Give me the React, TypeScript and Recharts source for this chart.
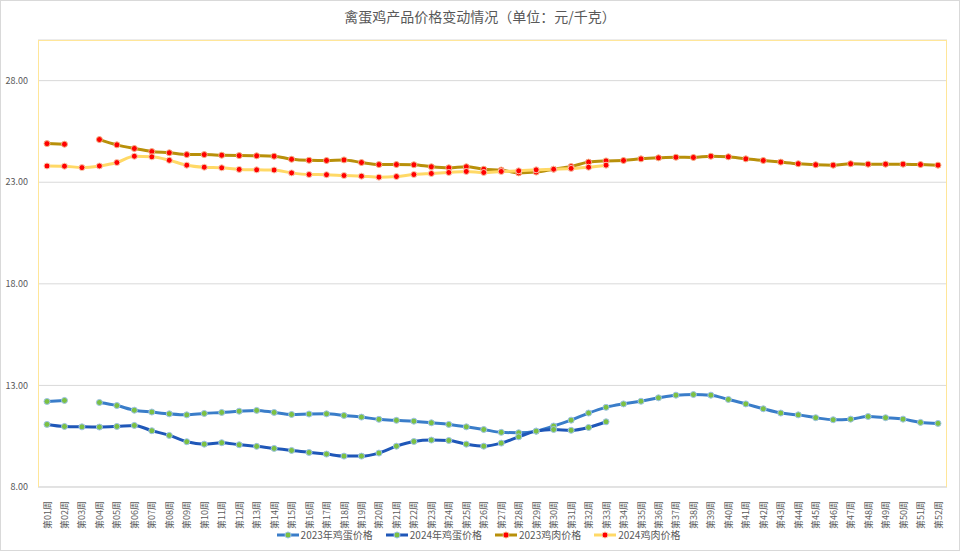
import React from "react";
import { LineChart, Line, XAxis, YAxis, CartesianGrid, Legend } from "recharts";

const weeks = [
  "第01周", "第02周", "第03周", "第04周", "第05周", "第06周", "第07周", "第08周", "第09周", "第10周",
  "第11周", "第12周", "第13周", "第14周", "第15周", "第16周", "第17周", "第18周", "第19周", "第20周",
  "第21周", "第22周", "第23周", "第24周", "第25周", "第26周", "第27周", "第28周", "第29周", "第30周",
  "第31周", "第32周", "第33周", "第34周", "第35周", "第36周", "第37周", "第38周", "第39周", "第40周",
  "第41周", "第42周", "第43周", "第44周", "第45周", "第46周", "第47周", "第48周", "第49周", "第50周",
  "第51周", "第52周",
];

const egg2023 = [
  12.21, 12.26, null, 12.16, 12.01, 11.78, 11.69, 11.6, 11.55, 11.62,
  11.67, 11.73, 11.77, 11.67, 11.57, 11.59, 11.6, 11.52, 11.44, 11.33,
  11.28, 11.24, 11.16, 11.08, 10.96, 10.83, 10.69, 10.67, 10.75, 11.0,
  11.29, 11.64, 11.92, 12.09, 12.22, 12.39, 12.52, 12.55, 12.52, 12.31,
  12.09, 11.85, 11.64, 11.55, 11.41, 11.31, 11.34, 11.47, 11.41, 11.34,
  11.18, 11.13,
];

const egg2024 = [
  11.08, 10.98, 10.96, 10.95, 10.98, 11.03, 10.77, 10.54, 10.23, 10.11,
  10.18, 10.08, 10.0, 9.9, 9.8, 9.7, 9.62, 9.52, 9.52, 9.67,
  10.01, 10.24, 10.31, 10.29, 10.11, 10.01, 10.16, 10.47, 10.75, 10.83,
  10.79, 10.93, 11.21,
];

const meat2023 = [
  24.9, 24.87, null, 25.1, 24.84, 24.66, 24.51, 24.45, 24.36, 24.36,
  24.33, 24.31, 24.3, 24.28, 24.13, 24.08, 24.07, 24.1, 23.97, 23.87,
  23.87, 23.86, 23.76, 23.71, 23.76, 23.64, 23.6, 23.46, 23.5, 23.64,
  23.77, 23.99, 24.05, 24.07, 24.15, 24.2, 24.23, 24.22, 24.28, 24.25,
  24.15, 24.07, 23.99, 23.91, 23.86, 23.84, 23.91, 23.89, 23.89, 23.89,
  23.87, 23.84,
];

const meat2024 = [
  23.8, 23.79, 23.72, 23.8, 23.97, 24.28, 24.25, 24.08, 23.84, 23.74,
  23.71, 23.63, 23.61, 23.6, 23.46, 23.38, 23.37, 23.33, 23.3, 23.25,
  23.28, 23.38, 23.43, 23.48, 23.53, 23.48, 23.53, 23.56, 23.61, 23.64,
  23.68, 23.74, 23.84,
];

const yTicks = [8, 13, 18, 23, 28];

const data = weeks.map((week, i) => ({
  week,
  egg2023: egg2023[i] ?? null,
  egg2024: egg2024[i] ?? null,
  meat2023: meat2023[i] ?? null,
  meat2024: meat2024[i] ?? null,
}));

const series = [
  { key: "egg2023", name: "2023年鸡蛋价格", color: "#3A7DC9", dot: "#7CC142", dotStroke: "#9DC3E6" },
  { key: "egg2024", name: "2024年鸡蛋价格", color: "#1F57B8", dot: "#7CC142", dotStroke: "#9DC3E6" },
  { key: "meat2023", name: "2023鸡肉价格", color: "#B8900A", dot: "#FF0000", dotStroke: "#F4B183" },
  { key: "meat2024", name: "2024鸡肉价格", color: "#FFD966", dot: "#FF0000", dotStroke: "#F8CBAD" },
];

const FONT = "'Noto Sans CJK SC', 'Noto Sans', sans-serif";

const WeekTick = (props: any) => {
  const { x, y, payload } = props;
  return (
    <text
      transform={`translate(${x},${y + 6}) rotate(-90)`}
      textAnchor="end"
      dominantBaseline="central"
      fontSize={9}
      fill="#595959"
      fontFamily={FONT}
    >
      {payload.value}
    </text>
  );
};

const LegendContent = () => (
  <div style={{ display: "flex", justifyContent: "center", gap: 13, fontSize: 10, color: "#595959", fontFamily: FONT, paddingLeft: 10 }}>
    {series.map((s) => (
      <div key={s.key} style={{ display: "flex", alignItems: "center" }}>
        <svg width={22} height={10} style={{ marginRight: 2 }}>
          <line x1={0} y1={5} x2={22} y2={5} stroke={s.color} strokeWidth={3} />
          <circle cx={11} cy={5} r={3} fill={s.dot} stroke={s.dotStroke} strokeWidth={1} />
        </svg>
        <span>{s.name}</span>
      </div>
    ))}
  </div>
);

const App = () => {
  return (
    <div style={{ position: "absolute", left: 0, top: 0, width: 960, height: 551, background: "#fff" }}>
      <div
        style={{
          position: "absolute",
          top: 6,
          left: 0,
          width: 960,
          textAlign: "center",
          fontSize: 14,
          color: "#595959",
          fontFamily: FONT,
        }}
      >
        禽蛋鸡产品价格变动情况（单位：元/千克）
      </div>
      <LineChart width={960} height={551} data={data} margin={{ top: 40, right: 13, left: 0, bottom: 0 }}>
        <CartesianGrid vertical={false} stroke="#d9d9d9" />
        <XAxis
          dataKey="week"
          interval={0}
          height={40}
          padding={{ left: 9, right: 9 }}
          tick={<WeekTick />}
          tickLine={false}
          axisLine={{ stroke: "#d9d9d9" }}
        />
        <YAxis
          domain={[8, 30]}
          ticks={yTicks}
          width={38}
          tickSize={0}
          tickMargin={10}
          axisLine={false}
          tickLine={false}
          tickFormatter={(v: number) => v.toFixed(2)}
          tick={{ fontSize: 9, fill: "#595959", fontFamily: FONT }}
        />
        <Legend verticalAlign="bottom" height={24} content={<LegendContent />} />
        {series.map((s) => (
          <Line
            key={s.key}
            dataKey={s.key}
            name={s.name}
            type="monotone"
            stroke={s.color}
            strokeWidth={3}
            dot={{ r: 3, fill: s.dot, stroke: s.dotStroke, strokeWidth: 1 }}
            activeDot={false}
            isAnimationActive={false}
          />
        ))}
      </LineChart>
      <div
        style={{
          position: "absolute",
          left: 38,
          top: 40,
          width: 909,
          height: 447,
          boxSizing: "border-box",
          border: "1.5px solid #FFE699",
          borderBottom: "none",
          pointerEvents: "none",
        }}
      />
      <div
        style={{
          position: "absolute",
          left: 0,
          top: 0,
          width: 960,
          height: 551,
          boxSizing: "border-box",
          border: "1px solid #d9d9d9",
          pointerEvents: "none",
        }}
      />
    </div>
  );
};

export default App;
